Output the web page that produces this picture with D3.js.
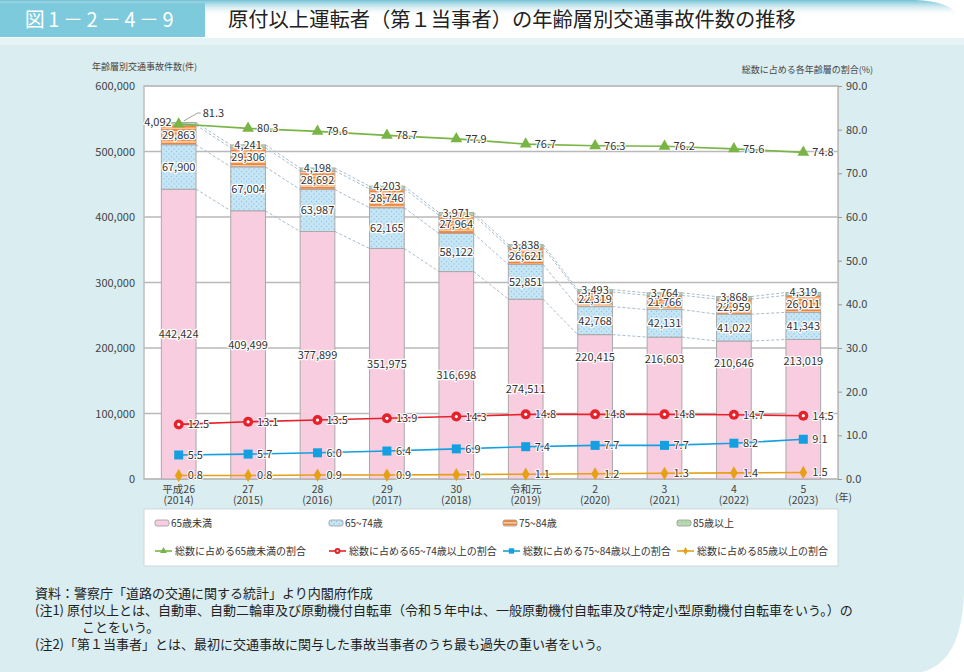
<!DOCTYPE html>
<html><head><meta charset="utf-8">
<script src="https://cdn.jsdelivr.net/npm/d3@7"></script>
<style>html,body{margin:0;padding:0;background:#fff;}svg{display:block;font-family:"Noto Sans CJK JP","Noto Sans",sans-serif;}</style>
</head><body><svg id="c" width="964" height="672"></svg>
<script>
// ---- data ----
const categories = ["2014","2015","2016","2017","2018","2019","2020","2021","2022","2023"];
const eraLabels = ["平成26","27","28","29","30","令和元","2","3","4","5"];
const adLabels = ["(2014)","(2015)","(2016)","(2017)","(2018)","(2019)","(2020)","(2021)","(2022)","(2023)"];
const under65 = [442424,409499,377899,351975,316698,274511,220415,216603,210646,213019];
const age65to74 = [67900,67004,63987,62165,58122,52851,42768,42131,41022,41343];
const age75to84 = [29863,29306,28692,28746,27964,26621,22319,21766,22959,26011];
const age85plus = [4092,4241,4198,4203,3971,3838,3493,3764,3868,4319];
const shareUnder65 = [81.3,80.3,79.6,78.7,77.9,76.7,76.3,76.2,75.6,74.8];
const share65to74 = [12.5,13.1,13.5,13.9,14.3,14.8,14.8,14.8,14.7,14.5];
const share75to84 = [5.5,5.7,6.0,6.4,6.9,7.4,7.7,7.7,8.2,9.1];
const share85plus = [0.8,0.8,0.9,0.9,1.0,1.1,1.2,1.3,1.4,1.5];
const leftTicks = [0,100000,200000,300000,400000,500000,600000];
const rightTicks = [0,10,20,30,40,50,60,70,80,90];
const barLegend = ["65歳未満","65~74歳","75~84歳","85歳以上"];
const lineLegend = ["総数に占める65歳未満の割合","総数に占める65~74歳以上の割合","総数に占める75~84歳以上の割合","総数に占める85歳以上の割合"];
const titleText = "原付以上運転者（第１当事者）の年齢層別交通事故件数の推移";
const figNo = "図1－2－4－9";
const notes = ["資料：警察庁「道路の交通に関する統計」より内閣府作成",
 "(注1) 原付以上とは、自動車、自動二輪車及び原動機付自転車（令和５年中は、一般原動機付自転車及び特定小型原動機付自転車をいう。）の",
 "ことをいう。",
 "(注2)「第１当事者」とは、最初に交通事故に関与した事故当事者のうち最も過失の重い者をいう。"];

// ---- drawing ----
const svg = d3.select("#c");
const defs = svg.append("defs");
const hg = defs.append("linearGradient").attr("id","hg").attr("x1",0).attr("x2",0).attr("y1",0).attr("y2",1);
hg.append("stop").attr("offset","0").attr("stop-color","#74c2d6");
hg.append("stop").attr("offset","1").attr("stop-color","#ffffff").attr("stop-opacity",0);
// patterns
const pBlue = defs.append("pattern").attr("id","pBlue").attr("width",5).attr("height",5).attr("patternUnits","userSpaceOnUse");
pBlue.append("rect").attr("width",5).attr("height",5).attr("fill","#c6e6f6");
pBlue.append("circle").attr("cx",1.5).attr("cy",1.5).attr("r",0.7).attr("fill","#8fc3df");
pBlue.append("circle").attr("cx",4).attr("cy",4).attr("r",0.7).attr("fill","#8fc3df");
const pOr = defs.append("pattern").attr("id","pOr").attr("width",4).attr("height",3.4).attr("patternUnits","userSpaceOnUse");
pOr.append("rect").attr("width",4).attr("height",3.4).attr("fill","#f7c9a2");
pOr.append("rect").attr("width",4).attr("height",1.7).attr("fill","#f0843a");
const pGr = defs.append("pattern").attr("id","pGr").attr("width",4).attr("height",4).attr("patternUnits","userSpaceOnUse");
pGr.append("rect").attr("width",4).attr("height",4).attr("fill","#b5dbb0");
pGr.append("circle").attr("cx",2).attr("cy",2).attr("r",0.6).attr("fill","#86b982");

// background
svg.append("path").attr("d","M0,38 H964 V592 Q962,662 922,672 H0 Z").attr("fill","#daedf1");
svg.append("rect").attr("x",0).attr("y",38).attr("width",964).attr("height",7).attr("fill","#e5f3f6");
// header
svg.append("path").attr("d","M0,0 H915 Q950,1 958,16 H0 Z").attr("fill","url(#hg)");
svg.append("rect").attr("x",0).attr("y",3).attr("width",205).attr("height",34).attr("fill","#7ccadb");
svg.append("text").attr("x",101).attr("y",27).attr("text-anchor","middle").attr("fill","#fff").attr("font-size",20).attr("letter-spacing",3.5).text(figNo);
svg.append("text").attr("x",228).attr("y",27).attr("fill","#222").attr("font-size",20.3).text(titleText);

const X0=144, X1=838, Y0=86, Y1=479;
const x = d3.scaleBand().domain(categories).range([X0,X1]).paddingInner(0.5).paddingOuter(0.25);
const yL = d3.scaleLinear().domain([0,600000]).range([Y1,Y0]);
const yR = d3.scaleLinear().domain([0,90]).range([Y1,Y0]);
const bw = x.bandwidth();
const cx = c => x(c) + bw/2;

// plot area
svg.append("rect").attr("x",X0).attr("y",Y0).attr("width",X1-X0).attr("height",Y1-Y0).attr("fill","#fff");
svg.append("g").selectAll("line").data(leftTicks).join("line")
  .attr("x1",X0).attr("x2",X1).attr("y1",d=>yL(d)).attr("y2",d=>yL(d))
  .attr("stroke","#b9b9b9").attr("stroke-width",1.5);
svg.append("rect").attr("x",X0).attr("y",Y0).attr("width",X1-X0).attr("height",Y1-Y0).attr("fill","none").attr("stroke","#bdbdbd").attr("stroke-width",1.5);

// axes
const gl = svg.append("g").attr("transform",`translate(${X0},0)`)
  .call(d3.axisLeft(yL).tickValues(leftTicks).tickFormat(d3.format(",")).tickSize(0).tickPadding(9));
gl.select(".domain").remove();
gl.selectAll("text").attr("font-size",11).attr("fill","#444").attr("font-family","\"Noto Sans CJK JP\",sans-serif");
const gr = svg.append("g").attr("transform",`translate(${X1},0)`)
  .call(d3.axisRight(yR).tickValues(rightTicks).tickFormat(d3.format(".1f")).tickSize(4).tickPadding(4));
gr.select(".domain").attr("stroke","#bdbdbd");
gr.selectAll("line").attr("stroke","#999");
gr.selectAll("text").attr("font-size",11).attr("fill","#444").attr("font-family","\"Noto Sans CJK JP\",sans-serif");
svg.append("text").attr("x",92).attr("y",70).attr("font-size",9).attr("fill","#444").text("年齢層別交通事故件数(件)");
svg.append("text").attr("x",873).attr("y",73).attr("text-anchor","end").attr("font-size",9).attr("fill","#444").text("総数に占める各年齢層の割合(%)");

// x labels
const xl = svg.append("g");
categories.forEach((c,i)=>{
  xl.append("text").attr("x",cx(c)).attr("y",493).attr("text-anchor","middle").attr("font-size",10.5).attr("fill","#444").text(eraLabels[i]);
  xl.append("text").attr("x",cx(c)).attr("y",504).attr("text-anchor","middle").attr("font-size",10.5).attr("fill","#444").text(adLabels[i]);
});
svg.append("text").attr("x",835).attr("y",501).attr("font-size",10).attr("fill","#444").text("(年)");

// stacked bars
const rows = categories.map((c,i)=>({c, a:under65[i], b:age65to74[i], o:age75to84[i], g:age85plus[i]}));
const stack = d3.stack().keys(["a","b","o","g"])(rows);
const fills = {a:"#f8cde0", b:"url(#pBlue)", o:"url(#pOr)", g:"url(#pGr)"};

// dashed connectors
const conn = svg.append("g");
stack.forEach(s=>{
  for(let i=0;i<s.length-1;i++){
    conn.append("line")
      .attr("x1",x(categories[i])+bw).attr("y1",yL(s[i][1]))
      .attr("x2",x(categories[i+1])).attr("y2",yL(s[i+1][1]))
      .attr("stroke","#a8bccb").attr("stroke-width",1).attr("stroke-dasharray","3,2");
  }
});

const bars = svg.append("g");
stack.forEach(s=>{
  bars.selectAll(null).data(s).join("rect")
    .attr("x",d=>x(d.data.c)).attr("width",bw)
    .attr("y",d=>yL(d[1])).attr("height",d=>yL(d[0])-yL(d[1]))
    .attr("fill",fills[s.key]).attr("stroke","#a9a9a9").attr("stroke-width",1);
});

// bar labels
const fmt = d3.format(",");
const bl = svg.append("g").attr("font-size",11).attr("fill","#333")
  .attr("stroke","#fff").attr("stroke-width",2.5).attr("paint-order","stroke").attr("stroke-linejoin","round");
stack.forEach(s=>{
  s.forEach((d,i)=>{
    let ty, tx = cx(d.data.c), anchor="middle";
    if(s.key==="g"){ ty = yL(d[1]); if(i===0){tx = cx(d.data.c)-7; anchor="end";} }
    else if(s.key==="a" && i>=6){ ty = yL(d[1]) + 22; }
    else ty = (yL(d[0])+yL(d[1]))/2;
    bl.append("text").attr("x",tx).attr("y",ty).attr("dy","0.36em").attr("text-anchor",anchor)
      .text(fmt(d.data[s.key]));
  });
});

// lines
const lineDefs = [
  {data:shareUnder65, color:"#78b544", marker:"tri"},
  {data:share65to74, color:"#e62129", marker:"circ"},
  {data:share75to84, color:"#14a0e0", marker:"sq"},
  {data:share85plus, color:"#e5a013", marker:"dia"}
];
const line = d3.line().x((d,i)=>cx(categories[i])).y(d=>yR(d));
function drawMarker(g, type, color, px, py, scale){
  const k = scale||1;
  if(type==="tri") g.append("path").attr("d",d3.symbol(d3.symbolTriangle, 60*k)()).attr("transform",`translate(${px},${py})`).attr("fill",color);
  else if(type==="circ"){ g.append("circle").attr("cx",px).attr("cy",py).attr("r",5*Math.sqrt(k)).attr("fill",color);
    g.append("circle").attr("cx",px).attr("cy",py).attr("r",1.6*Math.sqrt(k)).attr("fill","#fff"); }
  else if(type==="sq") g.append("rect").attr("x",px-4.5*Math.sqrt(k)).attr("y",py-4.5*Math.sqrt(k)).attr("width",9*Math.sqrt(k)).attr("height",9*Math.sqrt(k)).attr("fill",color);
  else g.append("path").attr("d",d3.symbol(d3.symbolDiamond, 50*k)()).attr("transform",`translate(${px},${py})`).attr("fill",color);
}
const lg = svg.append("g");
lineDefs.forEach(L=>{
  lg.append("path").datum(L.data).attr("d",line).attr("fill","none").attr("stroke",L.color).attr("stroke-width",1.6);
});
lineDefs.forEach(L=>{
  L.data.forEach((v,i)=>drawMarker(lg, L.marker, L.color, cx(categories[i]), yR(v)));
});
const ll = svg.append("g").attr("font-size",11).attr("fill","#333")
  .attr("stroke","#fff").attr("stroke-width",2).attr("paint-order","stroke").attr("stroke-linejoin","round");
lineDefs.forEach((L,li)=>{
  L.data.forEach((v,i)=>{
    const px = cx(categories[i]), py = yR(v);
    if(li===0 && i===0){
      svg.append("path").attr("d",`M${px+5},${py-3} L${px+19},${py-11} H${px+22}`).attr("fill","none").attr("stroke","#888").attr("stroke-width",0.8);
      ll.append("text").attr("x",px+24).attr("y",py-11).attr("dy","0.36em").text(d3.format(".1f")(v));
    } else {
      ll.append("text").attr("x",px+9).attr("y",py).attr("dy","0.36em").text(d3.format(".1f")(v));
    }
  });
});

// legend
svg.append("rect").attr("x",144).attr("y",509).attr("width",694).attr("height",57).attr("fill","#fff").attr("stroke","#cfd8da").attr("stroke-width",1);
const legX = [155,329,503,677];
const barFillsLeg = ["#f8cde0","url(#pBlue)","url(#pOr)","url(#pGr)"];
const leg = svg.append("g").attr("font-size",10).attr("fill","#333");
barLegend.forEach((t,i)=>{
  leg.append("rect").attr("x",legX[i]).attr("y",520).attr("width",14).attr("height",6).attr("rx",2).attr("fill",barFillsLeg[i]).attr("stroke","#999").attr("stroke-width",0.8);
  leg.append("text").attr("x",legX[i]+16).attr("y",527).text(t);
});
lineLegend.forEach((t,i)=>{
  const L = lineDefs[i];
  leg.append("line").attr("x1",legX[i]).attr("x2",legX[i]+17).attr("y1",551).attr("y2",551).attr("stroke",L.color).attr("stroke-width",1.6);
  drawMarker(leg, L.marker, L.color, legX[i]+8.5, 551, 0.35);
  leg.append("text").attr("x",legX[i]+20).attr("y",555).text(t);
});

// notes
const nt = svg.append("g").attr("font-size",13).attr("fill","#222");
nt.append("text").attr("x",35).attr("y",598).text(notes[0]);
nt.append("text").attr("x",35).attr("y",615).text(notes[1]);
nt.append("text").attr("x",82).attr("y",632).text(notes[2]);
nt.append("text").attr("x",35).attr("y",649).text(notes[3]);
</script></body></html>
